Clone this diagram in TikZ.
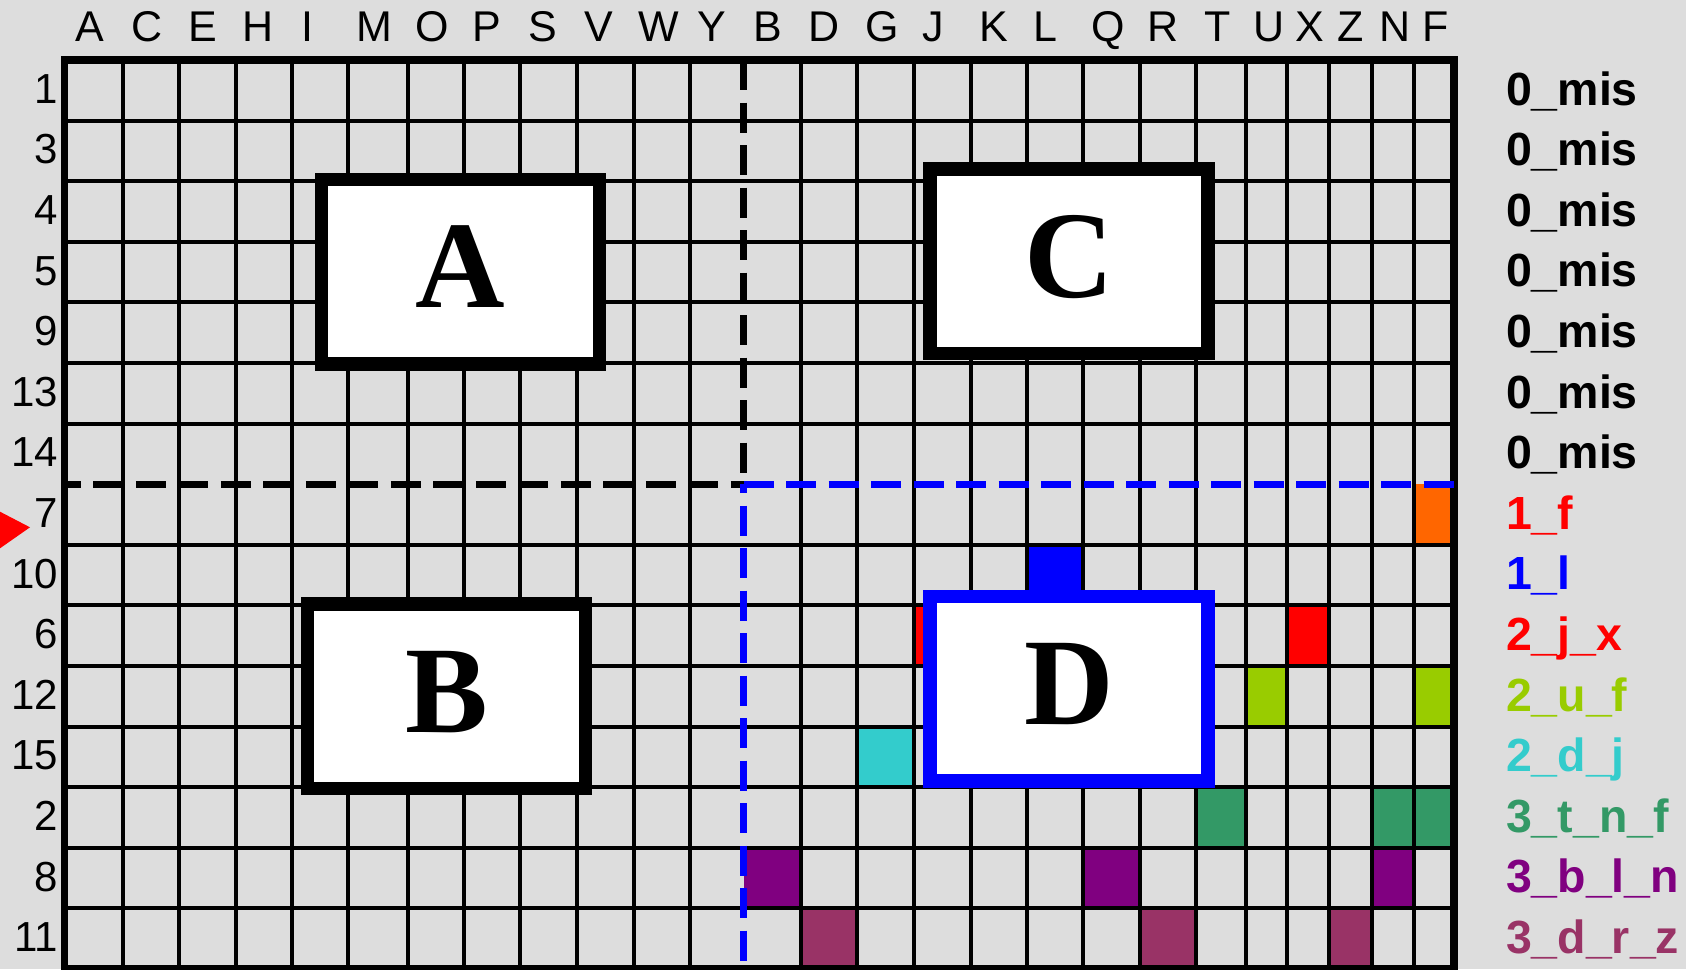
\documentclass[tikz,border=0pt]{standalone}
\usepackage{fontspec}
\setmainfont{Liberation Sans}
\newfontfamily\letterfont{Liberation Serif}
\definecolor{bg}{HTML}{DDDDDD}
\definecolor{cOrange}{HTML}{FF6600}
\definecolor{cBlue}{HTML}{0000FF}
\definecolor{cRed}{HTML}{FF0000}
\definecolor{cYG}{HTML}{99CC00}
\definecolor{cCyan}{HTML}{33CCCC}
\definecolor{cSea}{HTML}{339966}
\definecolor{cPurple}{HTML}{800080}
\definecolor{cMaroon}{HTML}{993366}
\begin{document}
\begin{tikzpicture}[x=1pt,y=-1pt,
  gridline/.style={line width=4pt,black},
  frameline/.style={line width=7.5pt,black},
  dashk/.style={line width=7pt,black,dash pattern=on 30pt off 12.5pt},
  dashb/.style={line width=7pt,cBlue,dash pattern=on 30pt off 12.5pt},
  bigbox/.style={draw=black,fill=white,line width=13.5pt,minimum width=278pt,minimum height=184.5pt,inner sep=0pt,
    font=\letterfont\bfseries\fontsize{124}{124}\selectfont,text height=83pt,text depth=11pt},
  hdr/.style={anchor=base,inner sep=0pt,font=\fontsize{43}{43}\selectfont},
  rowlab/.style={anchor=base east,inner sep=0pt,font=\fontsize{42}{42}\selectfont},
  keylab/.style={anchor=base west,inner sep=0pt,font=\bfseries\fontsize{46.5}{46.5}\selectfont},
]
\useasboundingbox (0,0) rectangle (1686,969);
\fill[bg] (0,0) rectangle (1686,969);
% column and row lines
\foreach \xx [count=\i from 0] in {64.5,122.5,179,235.7,291.7,348,408,464,520,577,633.5,689.5,743.5,800.5,857,913.5,970.5,1027,1083,1139.5,1196,1245.5,1286.5,1328.5,1371.5,1413.5,1454.2}
  {\coordinate (cx\i) at (\xx,0);}
\foreach \k in {0,...,15} {\coordinate (ry\k) at (0,{60+60.6*\k});}
% coloured cells
\fill[cOrange] (cx25 |- ry7) rectangle (cx26 |- ry8);
\fill[cBlue] (cx17 |- ry8) rectangle (cx18 |- ry9);
\fill[cRed] (cx15 |- ry9) rectangle (cx16 |- ry10);
\fill[cRed] (cx22 |- ry9) rectangle (cx23 |- ry10);
\fill[cYG] (cx21 |- ry10) rectangle (cx22 |- ry11);
\fill[cYG] (cx25 |- ry10) rectangle (cx26 |- ry11);
\fill[cCyan] (cx14 |- ry11) rectangle (cx15 |- ry12);
\fill[cSea] (cx20 |- ry12) rectangle (cx21 |- ry13);
\fill[cSea] (cx24 |- ry12) rectangle (cx25 |- ry13);
\fill[cSea] (cx25 |- ry12) rectangle (cx26 |- ry13);
\fill[cPurple] (cx12 |- ry13) rectangle (cx13 |- ry14);
\fill[cPurple] (cx18 |- ry13) rectangle (cx19 |- ry14);
\fill[cPurple] (cx24 |- ry13) rectangle (cx25 |- ry14);
\fill[cMaroon] (cx13 |- ry14) rectangle (cx14 |- ry15);
\fill[cMaroon] (cx19 |- ry14) rectangle (cx20 |- ry15);
\fill[cMaroon] (cx23 |- ry14) rectangle (cx24 |- ry15);
% grid
\foreach \i in {1,...,11,13,14,...,25} {\draw[gridline] (cx\i |- ry0) -- (cx\i |- ry15);}
\foreach \k in {1,...,6,8,9,...,14} {\draw[gridline] (cx0 |- ry\k) -- (cx26 |- ry\k);}
\draw[frameline] (cx0 |- ry0) rectangle (cx26 |- ry15);
% dashed quadrant lines
\draw[dashk] (cx12 |- ry0) -- (cx12 |- ry7);
\draw[dashk,dash phase=13.7pt] (cx0 |- ry7) -- (cx12 |- ry7);
\draw[dashb] (cx12 |- ry7) -- (cx26 |- ry7);
\draw[dashb,dash phase=21pt] (cx12 |- ry7) -- (cx12 |- ry15);
% boxes
\node[bigbox] (A) at (460.5,271.7) {A};
\node[bigbox] (B) at (446.7,696.2) {B};
\node[bigbox] (C) at (1068.9,261.4) {C};
\node[bigbox,draw=cBlue] (D) at (1069.1,688.7) {D};
% column headers
\foreach \lt/\xx [count=\i] in {A/89.5,C/147.5,E/202.5,H/258,I/307.5,M/374.5,O/432,P/487,S/543,V/599,W/659,Y/711.5,B/767.5,D/824.5,G/882.5,J/933.5,K/993.5,L/1045.5,Q/1108,R/1163,T/1218,U/1269,X/1310,Z/1351,N/1395,F/1436}
  {\node[hdr] (h\i) at (\xx,41) {\lt};}
% row labels
\foreach \lab [count=\k from 0] in {1,3,4,5,9,13,14,7,10,6,12,15,2,8,11}
  {\node[rowlab] (rl\k) at (58.5,{60+60.6*\k+30.3+13}) {\lab};}
% key labels
\foreach \lt/\cc [count=\k from 0] in {0\_mis/black,0\_mis/black,0\_mis/black,0\_mis/black,0\_mis/black,0\_mis/black,0\_mis/black,1\_f/cRed,1\_l/cBlue,2\_j\_x/cRed,2\_u\_f/cYG,2\_d\_j/cCyan,3\_t\_n\_f/cSea,3\_b\_l\_n/cPurple,3\_d\_r\_z/cMaroon}
  {\node[keylab,text=\cc] (k\k) at (1505.8,{60+60.6*\k+30.3+14.8}) {\lt};}
% marker
\fill[cRed] (0,511.7) -- (30,527.3) -- (0,548.3) -- cycle;
\end{tikzpicture}
\end{document}
